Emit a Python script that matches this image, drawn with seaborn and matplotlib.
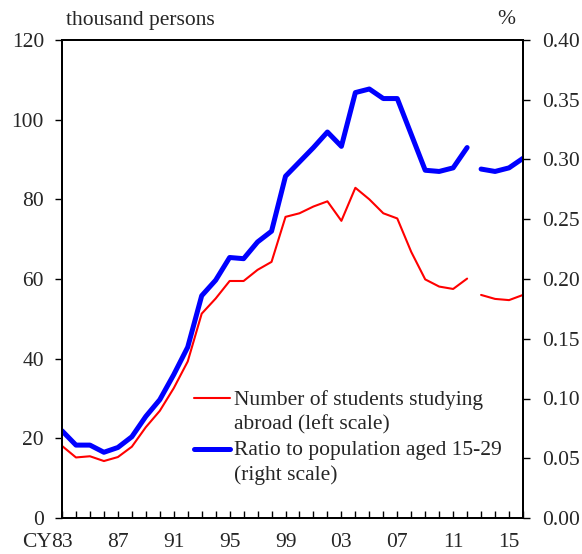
import matplotlib
matplotlib.use("Agg")
import matplotlib.pyplot as plt
import seaborn as sns
import pandas as pd
from matplotlib.lines import Line2D
from matplotlib.ticker import MultipleLocator, FormatStrFormatter

# Japanese students studying abroad, calendar years (series break between 2012 and 2013)
years = list(range(1983, 2017))
segment = [1] * 30 + [2] * 4
students = [18.1, 15.2, 15.5, 14.3, 15.3, 17.9, 22.8, 26.9, 32.6, 39.3,
            51.3, 55.1, 59.5, 59.5, 62.3, 64.3, 75.6, 76.5, 78.2, 79.5,
            74.6, 82.9, 80.0, 76.5, 75.2, 66.8, 59.9, 58.1, 57.5, 60.1,
            56.0, 55.0, 54.7, 56.0]
ratio = [0.073, 0.061, 0.061, 0.055, 0.059, 0.068, 0.085, 0.099, 0.120, 0.143,
         0.186, 0.199, 0.218, 0.217, 0.231, 0.240, 0.286, 0.298, 0.310, 0.323,
         0.311, 0.356, 0.359, 0.351, 0.351, 0.321, 0.291, 0.290, 0.293, 0.310,
         0.292, 0.290, 0.293, 0.301]
label_years = [1983, 1987, 1991, 1995, 1999, 2003, 2007, 2011, 2015]
label_text = ["83", "87", "91", "95", "99", "03", "07", "11", "15"]

df = pd.DataFrame({"year": years, "segment": segment,
                   "students": students, "ratio": ratio})

FS = 15.5
sns.set_style("ticks")
plt.rcParams["font.family"] = ["Liberation Serif", "DejaVu Serif"]
plt.rcParams["font.size"] = FS

fig = plt.figure(figsize=(5.82, 5.54), dpi=100)
ax = fig.add_axes([62 / 582, 1 - 518 / 554, 461 / 582, 478 / 554])
ax2 = ax.twinx()

sns.lineplot(data=df, x="year", y="students", units="segment", estimator=None,
             color="#ff0000", linewidth=1.5, ax=ax)
sns.lineplot(data=df, x="year", y="ratio", units="segment", estimator=None,
             color="#0000ff", linewidth=3.6, ax=ax2)

ax.set_xlim(1983, 2016)
ax.set_ylim(0, 120)
ax2.set_ylim(0, 0.40)
ax.yaxis.set_major_locator(MultipleLocator(20))
ax2.yaxis.set_major_locator(MultipleLocator(0.05))
ax2.yaxis.set_major_formatter(FormatStrFormatter("%.2f"))

ax.set_xticks(years, minor=True)
ax.set_xticks(label_years)
ax.set_xticklabels(label_text)
ax.tick_params(axis="x", which="both", direction="in", length=5, width=1,
               pad=11, labelsize=FS, color="black")
ax.tick_params(axis="y", direction="out", length=5, width=1, pad=8,
               labelsize=FS, color="black")
ax2.tick_params(axis="y", direction="out", length=5, width=1, pad=9,
                labelsize=FS, color="black")

for a in (ax, ax2):
    a.set_xlabel("")
    a.set_ylabel("")
    for s in a.spines.values():
        s.set_visible(True)
        s.set_color("black")
        s.set_linewidth(1.4)

# "CY" prefix in front of the first year label
ax.annotate("CY", xy=(1983, 0), xycoords="data", xytext=(-7.5, -11),
            textcoords="offset points", ha="right", va="top", fontsize=FS)

fig.text(66 / 582, 1 - 20 / 554, "thousand persons", ha="left", va="center",
         fontsize=FS)
fig.text(506 / 582, 1 - 19 / 554, "%", ha="center", va="center", fontsize=FS)

# legend
lx0, lx1, tx = (194 - 62) / 461, (230 - 62) / 461, (234 - 62) / 461
ax.add_line(Line2D([lx0, lx1], [(518 - 398) / 478] * 2, transform=ax.transAxes,
                   color="#ff0000", linewidth=1.5))
ax.add_line(Line2D([lx0, lx1], [(518 - 449) / 478] * 2, transform=ax.transAxes,
                   color="#0000ff", linewidth=3.6))
lines = [("Number of students studying", 400), ("abroad (left scale)", 425),
         ("Ratio to population aged 15-29", 450), ("(right scale)", 475)]
for txt, yy in lines:
    ax.text(tx, (518 - yy) / 478, txt, transform=ax.transAxes, ha="left",
            va="center", fontsize=FS)

fig.savefig("out.png", dpi=100)
